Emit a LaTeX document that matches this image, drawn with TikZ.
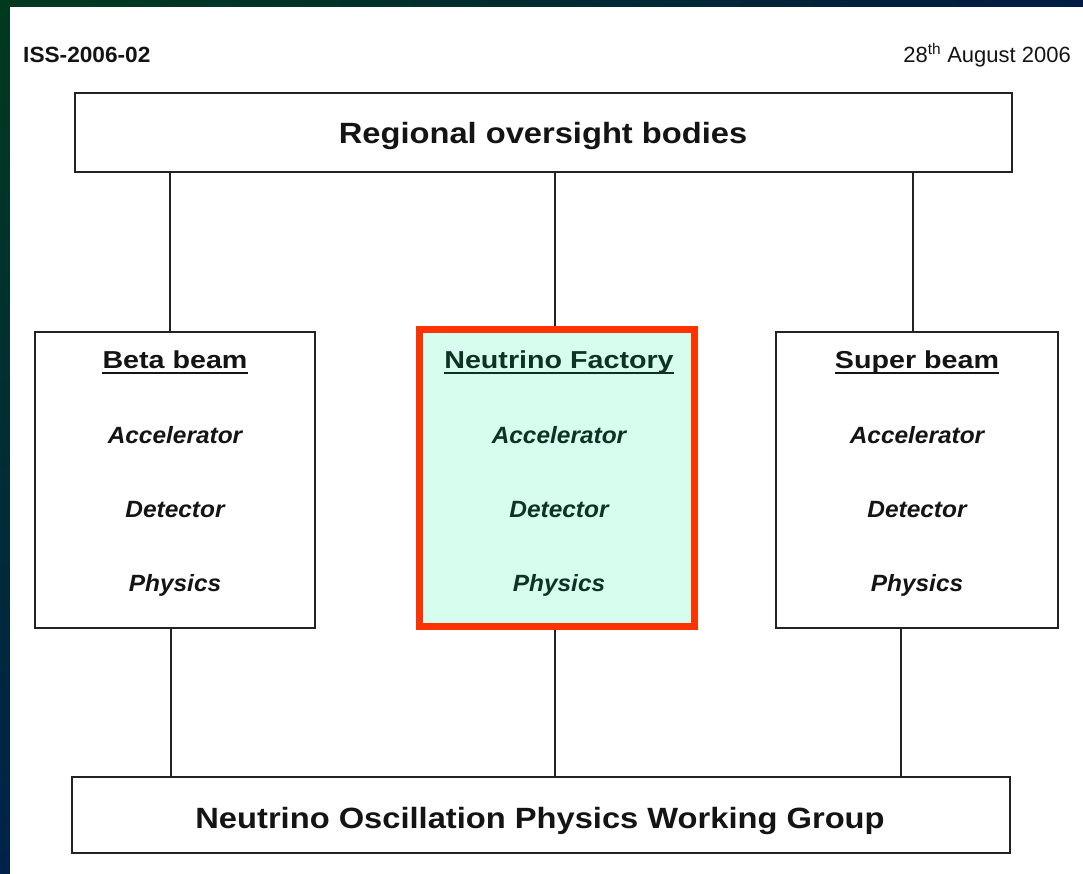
\documentclass[tikz,border=0pt]{standalone}
\usepackage{fontspec}
\usetikzlibrary{shadings}
\setmainfont{Liberation Sans}
\newfontfamily\fA[FakeStretch=1.115]{Liberation Sans}
\newfontfamily\fB[FakeStretch=1.17]{Liberation Sans}
\newfontfamily\fC[FakeStretch=1.04]{Liberation Sans}
\newfontfamily\fD[FakeStretch=1.03]{Liberation Sans}
\definecolor{bggreen}{HTML}{003A1E}
\definecolor{bgnavy}{HTML}{001C44}
\definecolor{bgnavyb}{HTML}{00224A}
\definecolor{inkc}{HTML}{141414}
\definecolor{linec}{HTML}{222222}
\definecolor{nfred}{HTML}{FF3300}
\definecolor{nffill}{HTML}{D6FDEE}
\definecolor{nfink}{HTML}{0E3322}
\begin{document}
\begin{tikzpicture}[x=1pt,y=-1pt,
  box/.style={draw=linec,line width=2pt,fill=white,inner sep=0pt},
  nfbox/.style={draw=nfred,line width=7pt,fill=nffill,inner sep=0pt},
  bigtxt/.style={inner sep=0pt,anchor=base,text=inkc,font=\fA\bfseries\fontsize{29.3}{35}\selectfont},
  ttl/.style={inner sep=0pt,anchor=base,font=\fB\bfseries\fontsize{24.5}{30}\selectfont},
  item/.style={inner sep=0pt,anchor=base,font=\fC\bfseries\itshape\fontsize{23.5}{28}\selectfont},
  hdr/.style={inner sep=0pt,text=inkc},
  conn/.style={draw=linec,line width=2pt},
  uline/.style={line width=2.4pt}
]
\useasboundingbox (0,0) rectangle (1083,873);
\shade[upper left=bggreen, upper right=bgnavy, lower left=bgnavyb, lower right=bgnavy] (0,0) rectangle (1083,873);
\fill[white] (10,7) rectangle (1090,880);

% header
\node[hdr,anchor=base west,font=\fD\bfseries\fontsize{22}{26}\selectfont] (iss) at (23,62) {ISS-2006-02};
\node[hdr,anchor=base east,font=\fontsize{22}{26}\selectfont] (date) at (1071,62) {28\textsuperscript{th} August 2006};

% boxes
\node[box,minimum width=937pt,minimum height=79pt] (top) at (543.5,132.5) {};
\node[box,minimum width=280pt,minimum height=296pt] (beta) at (175,480) {};
\node[nfbox,minimum width=275pt,minimum height=297pt] (nf) at (557,478) {};
\node[box,minimum width=282pt,minimum height=296pt] (super) at (917,480) {};
\node[box,minimum width=938pt,minimum height=76pt] (bot) at (541,815) {};

% box texts
\node[bigtxt] (toptxt) at (543,143) {Regional oversight bodies};
\node[bigtxt] (bottxt) at (540,828) {Neutrino Oscillation Physics Working Group};

\node[ttl,text=inkc] (bt) at (175,368) {Beta beam};
\node[item,text=inkc] (ba) at (175,443) {Accelerator};
\node[item,text=inkc] (bd) at (175,517) {Detector};
\node[item,text=inkc] (bp) at (175,591) {Physics};

\node[ttl,text=nfink] (nt) at (559,368) {Neutrino Factory};
\node[item,text=nfink] (na) at (559,443) {Accelerator};
\node[item,text=nfink] (nd) at (559,517) {Detector};
\node[item,text=nfink] (np) at (559,591) {Physics};

\node[ttl,text=inkc] (st) at (917,368) {Super beam};
\node[item,text=inkc] (sa) at (917,443) {Accelerator};
\node[item,text=inkc] (sd) at (917,517) {Detector};
\node[item,text=inkc] (sp) at (917,591) {Physics};

% underlines
\draw[uline,draw=inkc] ([yshift=-5pt]bt.base west) -- ([yshift=-5pt]bt.base east);
\draw[uline,draw=nfink] ([yshift=-5pt]nt.base west) -- ([yshift=-5pt]nt.base east);
\draw[uline,draw=inkc] ([yshift=-5pt]st.base west) -- ([yshift=-5pt]st.base east);

% connectors
\coordinate (c1) at (170,0);
\coordinate (c2) at (555,0);
\coordinate (c3) at (913,0);
\coordinate (d1) at (171,0);
\coordinate (d2) at (555,0);
\coordinate (d3) at (901,0);
\draw[conn] (c1 |- top.south) -- (c1 |- beta.north);
\draw[conn] (c2 |- top.south) -- (c2 |- nf.north);
\draw[conn] (c3 |- top.south) -- (c3 |- super.north);
\draw[conn] (d1 |- beta.south) -- (d1 |- bot.north);
\draw[conn] (d2 |- nf.south) -- (d2 |- bot.north);
\draw[conn] (d3 |- super.south) -- (d3 |- bot.north);
\end{tikzpicture}
\end{document}
